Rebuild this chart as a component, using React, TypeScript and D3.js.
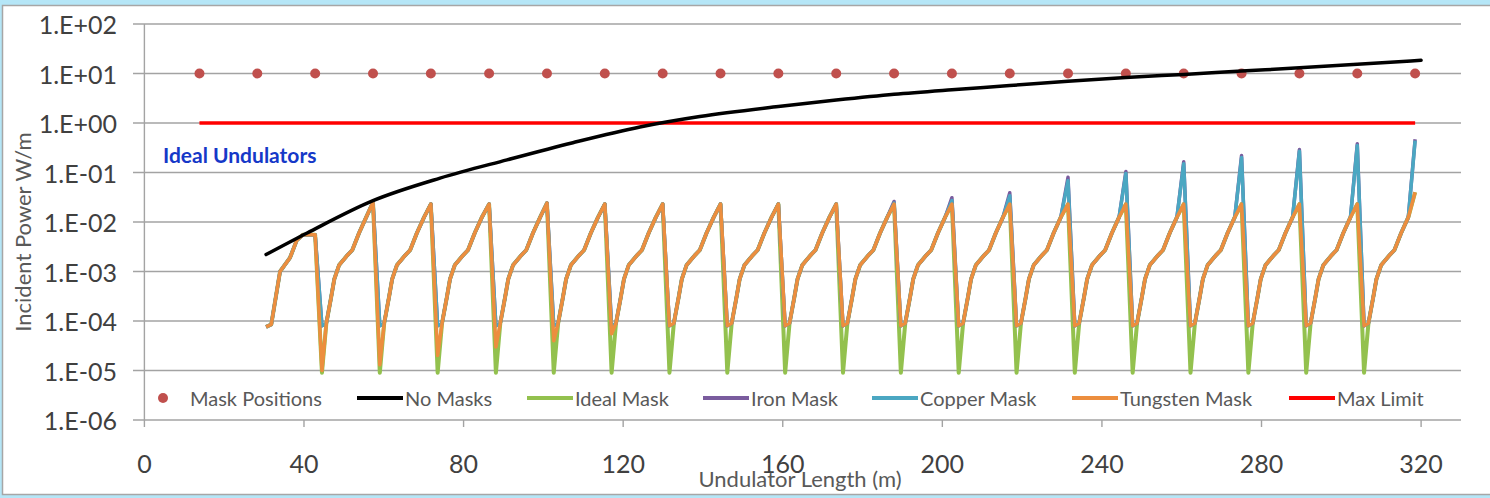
import React from 'react';
import * as d3 from 'd3';

// mask positions along the undulator line (m)
const maskPositions = [13.8, 28.3, 42.8, 57.3, 71.8, 86.4, 100.9, 115.4, 129.9, 144.4, 158.9,
    173.4, 187.9, 202.4, 216.9, 231.5, 246.0, 260.5, 275.0, 289.5, 304.0, 318.5];
const maskLevel = 10;

// no masks curve
const noMaskZ = [30.5, 40.8, 57.3, 74.1, 90.9, 107.4, 124.2, 139.2, 158.9, 173.4, 187.9,
    202.4, 216.9, 231.5, 246.0, 260.5, 275.0, 289.5, 304.0, 320.0];
const noMaskP = [2.2e-3, 6.0e-3, 2.7e-2, 7.7e-2, 0.18, 0.40, 0.83, 1.35, 2.15, 2.9, 3.8,
    4.7, 5.7, 7.0, 8.3, 9.6, 11.2, 13.0, 15.3, 18.5];

// max limit
const maxLimitZ = [13.8, 318.5];
const maxLimitP = [1, 1];

// first (partial) cell, same for every mask material
const firstCellZ = [30.5, 31.8, 34.0, 36.5, 38.2, 39.7];
const firstCellP = [7.6e-5, 8.5e-5, 1.0e-3, 1.9e-3, 4.3e-3, 5.5e-3];

const dipOffset = 1.7;
const riseOffsets = [2.8, 4.0, 4.8, 6.0, 8.0, 9.3, 11.0, 12.8];
const riseValues = [9e-5, 3e-4, 7e-4, 1.35e-3, 2.1e-3, 2.7e-3, 6e-3, 1.25e-2];

// values at masks 3..22 (peak just in front of each mask)
const tungstenPeaks = [5.5e-3, 2.5e-2, 2.3e-2, 2.3e-2, 2.4e-2, 2.3e-2, 2.3e-2, 2.3e-2, 2.3e-2, 2.3e-2,
    2.3e-2, 2.3e-2, 2.3e-2, 2.3e-2, 2.3e-2, 2.3e-2, 2.3e-2, 2.3e-2, 2.3e-2, 4.0e-2];
const copperPeaks = [5.5e-3, 2.5e-2, 2.3e-2, 2.3e-2, 2.4e-2, 2.3e-2, 2.3e-2, 2.3e-2, 2.3e-2, 2.3e-2,
    2.4e-2, 2.7e-2, 3.4e-2, 6.8e-2, 9.5e-2, 1.5e-1, 2.0e-1, 2.7e-1, 3.5e-1, 4.4e-1];
const ironPeaks = [5.5e-3, 2.5e-2, 2.3e-2, 2.3e-2, 2.4e-2, 2.3e-2, 2.3e-2, 2.3e-2, 2.3e-2, 2.3e-2,
    2.6e-2, 3.1e-2, 3.9e-2, 8.0e-2, 1.05e-1, 1.65e-1, 2.2e-1, 2.9e-1, 3.8e-1, 4.7e-1];

// values just behind masks 3..21
const tungstenDips = [1.0e-5, 1.3e-5, 2.0e-5, 3.0e-5, 4.0e-5, 5.5e-5, 8e-5, 8e-5, 8e-5, 8e-5,
    8e-5, 8e-5, 8e-5, 8e-5, 8e-5, 8e-5, 8e-5, 8e-5, 8e-5];
const copperDips = [8e-5, 8e-5, 8e-5, 8e-5, 8e-5, 8e-5, 8e-5, 8e-5, 8e-5, 8e-5,
    8e-5, 8e-5, 8e-5, 8e-5, 8e-5, 8e-5, 8e-5, 8e-5, 8e-5];
const ironDips = [8e-5, 8e-5, 8e-5, 8e-5, 8e-5, 8e-5, 8e-5, 8e-5, 8e-5, 8e-5,
    8e-5, 8e-5, 8e-5, 8e-5, 8e-5, 8e-5, 8e-5, 8e-5, 8e-5];
const idealDips = [9e-6, 9e-6, 9e-6, 9e-6, 9e-6, 9e-6, 9e-6, 9e-6, 9e-6, 9e-6,
    9e-6, 9e-6, 9e-6, 9e-6, 9e-6, 9e-6, 9e-6, 9e-6, 9e-6];

const xTicks = [0, 40, 80, 120, 160, 200, 240, 280, 320];
const yTicks = [1e2, 1e1, 1e0, 1e-1, 1e-2, 1e-3, 1e-4, 1e-5, 1e-6];
const yTickLabels = ['1.E+02', '1.E+01', '1.E+00', '1.E-01', '1.E-02', '1.E-03', '1.E-04', '1.E-05', '1.E-06'];

const colors = {
    mask: '#C0504D',
    none: '#000000',
    ideal: '#93C14E',
    iron: '#7A5C9E',
    copper: '#4BA7C2',
    tungsten: '#EC8E3E',
    max: '#FF0000',
};

const buildSeries = (peaks: number[], dips: number[]) => {
    const pts: [number, number][] = firstCellZ.map((z, i) => [z, firstCellP[i]]);
    maskPositions.slice(2).forEach((m, i) => {
        pts.push([m, peaks[i]]);
        if (i >= dips.length) return;
        pts.push([m + dipOffset, dips[i]]);
        riseOffsets.forEach((o, j) => pts.push([m + o, riseValues[j]]));
    });
    return pts;
};

const font = 'Lato, "Open Sans", sans-serif';

export default function App() {
    const width = 1490;
    const height = 498;

    const x = d3.scaleLinear().domain([0, 330]).range([144.4, 1461]);
    const y = d3.scaleLog().domain([1e-6, 1e2]).range([420, 24]);

    const line = d3.line<[number, number]>().x((d) => x(d[0])).y((d) => y(d[1]));
    const smooth = d3.line<[number, number]>().x((d) => x(d[0])).y((d) => y(d[1])).curve(d3.curveMonotoneX);

    const ideal = buildSeries(tungstenPeaks, idealDips);
    const iron = buildSeries(ironPeaks, ironDips);
    const copper = buildSeries(copperPeaks, copperDips);
    const tungsten = buildSeries(tungstenPeaks, tungstenDips);
    const noMask = noMaskZ.map((z, i) => [z, noMaskP[i]] as [number, number]);
    const maxLimit = maxLimitZ.map((z, i) => [z, maxLimitP[i]] as [number, number]);

    const legendY = 398;
    const legendLines = [
        { label: 'No Masks', color: colors.none, x0: 357 },
        { label: 'Ideal Mask', color: colors.ideal, x0: 527 },
        { label: 'Iron Mask', color: colors.iron, x0: 703 },
        { label: 'Copper Mask', color: colors.copper, x0: 872 },
        { label: 'Tungsten Mask', color: colors.tungsten, x0: 1072 },
        { label: 'Max Limit', color: colors.max, x0: 1289 },
    ];

    return (
        <svg width={width} height={height} style={{ position: 'absolute', left: 0, top: 0 }}>
            <rect x={0} y={0} width={width} height={height} fill='#B5E6F7' />
            <rect x={2.5} y={5.5} width={width} height={489} fill='#fff' stroke='#A6A6A6' strokeWidth={1.5} />

            {/* grid + y axis */}
            {yTicks.map((t, i) => (
                <g key={t}>
                    <line x1={133} x2={1461} y1={y(t)} y2={y(t)} stroke='#A3A3A3' strokeWidth={1.4} />
                    <text x={117} y={y(t)} textAnchor='end' dominantBaseline='central'
                        fontFamily={font} fontSize={25} fill='#404040'>{yTickLabels[i]}</text>
                </g>
            ))}
            <line x1={x(0)} x2={x(0)} y1={24} y2={420} stroke='#A3A3A3' strokeWidth={1.4} />
            {xTicks.map((t) => (
                <g key={t}>
                    <line x1={x(t)} x2={x(t)} y1={420} y2={427} stroke='#A3A3A3' strokeWidth={1.4} />
                    <text x={x(t)} y={463} textAnchor='middle' dominantBaseline='central'
                        fontFamily={font} fontSize={25} fill='#404040'>{t}</text>
                </g>
            ))}

            {/* mask positions */}
            {maskPositions.map((m) => (
                <circle key={m} cx={x(m)} cy={y(maskLevel)} r={5} fill={colors.mask} />
            ))}

            <path d={line(ideal)!} fill='none' stroke={colors.ideal} strokeWidth={4} strokeLinejoin='round' />
            <path d={line(iron)!} fill='none' stroke={colors.iron} strokeWidth={3.5} strokeLinejoin='round' />
            <path d={line(copper)!} fill='none' stroke={colors.copper} strokeWidth={3.5} strokeLinejoin='round' />
            <path d={line(tungsten)!} fill='none' stroke={colors.tungsten} strokeWidth={3.5} strokeLinejoin='round' />
            <path d={line(maxLimit)!} fill='none' stroke={colors.max} strokeWidth={3.5} />
            <path d={smooth(noMask)!} fill='none' stroke={colors.none} strokeWidth={3.5} strokeLinecap='round' />

            <text x={163} y={154} dominantBaseline='central' fontFamily={font} fontWeight='bold'
                fontSize={21} fill='#1538C8'>Ideal Undulators</text>

            {/* legend */}
            <circle cx={163} cy={legendY} r={5} fill={colors.mask} />
            <text x={190} y={legendY} dominantBaseline='central' fontFamily={font} fontSize={20} fill='#595959'>Mask Positions</text>
            {legendLines.map((d) => (
                <g key={d.label}>
                    <line x1={d.x0} x2={d.x0 + 46} y1={legendY} y2={legendY} stroke={d.color} strokeWidth={4} />
                    <text x={d.x0 + 48} y={legendY} dominantBaseline='central' fontFamily={font} fontSize={20}
                        fill='#595959'>{d.label}</text>
                </g>
            ))}

            <text transform='translate(22,232) rotate(-90)' textAnchor='middle' dominantBaseline='central'
                fontFamily={font} fontSize={22} fill='#595959'>Incident Power W/m</text>
            <text x={800} y={478} textAnchor='middle' dominantBaseline='central'
                fontFamily={font} fontSize={22} fill='#595959'>Undulator Length (m)</text>
        </svg>
    );
}
